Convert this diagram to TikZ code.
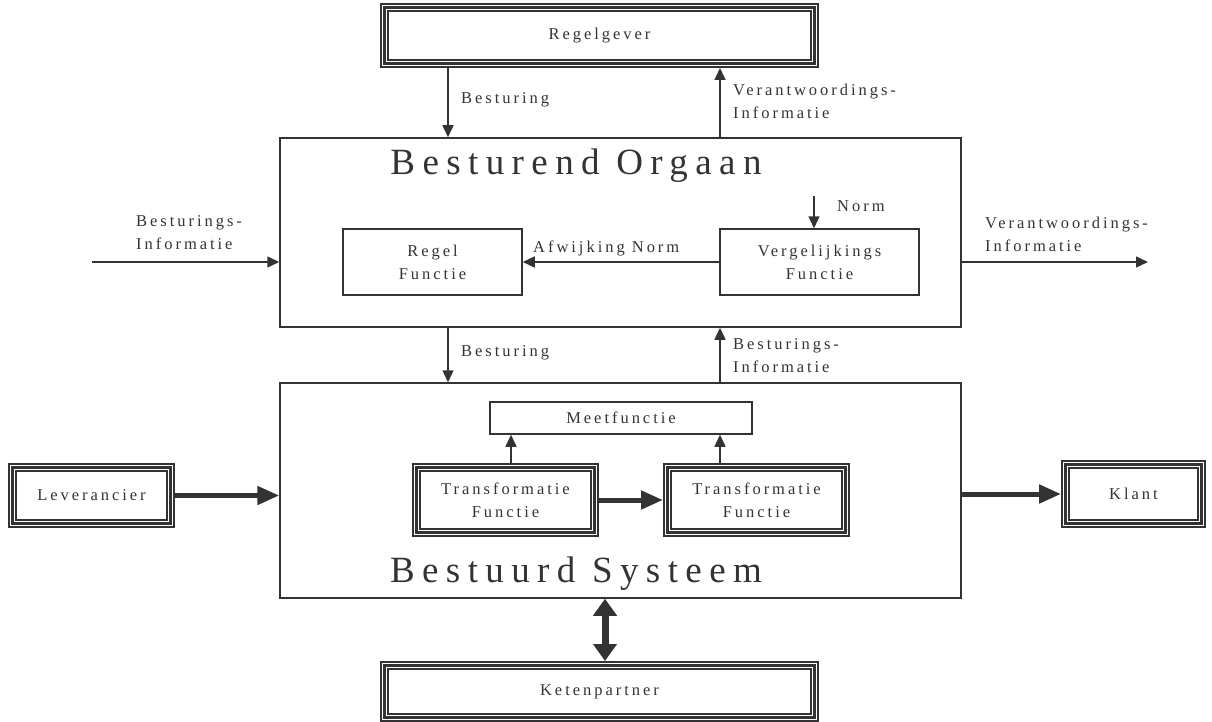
\documentclass[tikz,border=0pt]{standalone}
\usepackage{fontspec}
\setmainfont{Liberation Serif}[LetterSpace=18]
\newfontfamily\titlefont{Liberation Serif}[LetterSpace=20]
\usetikzlibrary{arrows.meta,calc}
\definecolor{ink}{HTML}{333333}
\begin{document}
\begin{tikzpicture}[x=1pt,y=-1pt,
  every node/.style={text=ink, font=\fontsize{16.5}{23}\selectfont},
  label/.style={align=left, inner sep=0pt},
  title/.style={font=\titlefont\fontsize{37}{42}\selectfont, inner sep=0pt},
  plainbox/.style={draw=ink, line width=1.5pt, inner sep=0pt, align=center},
  tribox/.style={draw=ink, line width=3pt, inner sep=0pt, outer sep=4.5pt, align=center,
    preaction={draw=ink, line width=9pt},
    preaction={draw=white, line width=5.5pt}},
  thin/.style={draw=ink, line width=1.5pt, -{Triangle[length=12pt,width=11pt]}},
  thick/.style={draw=ink, line width=5pt, -{Triangle[length=22pt,width=18pt]}},
  both/.style={draw=ink, line width=7pt, {Triangle[length=17pt,width=23pt]}-{Triangle[length=17pt,width=23pt]}}]
\useasboundingbox (0,0) rectangle (1212,722);

% controlling organ and controlled system
\node[plainbox, minimum width=681pt, minimum height=189pt] (bo) at (620.5,232.5) {};
\node[plainbox, minimum width=681pt, minimum height=215pt] (bs) at (620.5,490.5) {};
\node[title] (bot) at (576,166) {Besturend Orgaan};
\node[title] (bst) at (576,574) {Bestuurd Systeem};

% external parties
\node[tribox, minimum width=430pt, minimum height=56pt] (rg) at (599.5,35.5) {Regelgever};
\node[tribox, minimum width=430pt, minimum height=52pt] (kp) at (599.5,691.5) {Ketenpartner};
\node[tribox, minimum width=158pt, minimum height=56pt] (lev) at (91.5,495.5) {Leverancier};
\node[tribox, minimum width=136pt, minimum height=59pt] (kl) at (1133.5,494) {Klant};

% inner functions
\node[plainbox, minimum width=179pt, minimum height=66pt] (rf) at (432.5,262) {Regel\\Functie};
\node[plainbox, minimum width=199pt, minimum height=66pt] (vf) at (819.5,262) {Vergelijkings\\Functie};
\node[plainbox, minimum width=262pt, minimum height=32pt] (mf) at (621,418) {Meetfunctie};
\node[tribox, minimum width=178pt, minimum height=65pt] (t1) at (505.5,500) {Transformatie\\Functie};
\node[tribox, minimum width=178pt, minimum height=65pt] (t2) at (756.5,500) {Transformatie\\Functie};

% helper positions for vertical connectors
\coordinate (xa) at (448,0);
\coordinate (xb) at (720,0);
\coordinate (xn) at (814,196);
\coordinate (xm1) at (511,0);
\coordinate (xk) at (605,0);
\coordinate (inl) at (92,262);
\coordinate (outr) at (1148,262);

% connectors
\draw[thin] (rg.south -| xa) -- (bo.north -| xa);
\draw[thin] (bo.north -| xb) -- (rg.south -| xb);
\draw[thin] (bo.south -| xa) -- (bs.north -| xa);
\draw[thin] (bs.north -| xb) -- (bo.south -| xb);
\draw[thin] (inl) -- (bo.west |- inl);
\draw[thin] (bo.east |- outr) -- (outr);
\draw[thin] (xn) -- (vf.north -| xn);
\draw[thin] (vf.west) -- (rf.east);
\draw[thin] (t1.north -| xm1) -- (mf.south -| xm1);
\draw[thin] (t2.north -| xb) -- (mf.south -| xb);
\draw[thick] (lev.east) -- (bs.west |- lev.east);
\draw[thick] (bs.east |- kl.west) -- (kl.west);
\draw[thick] (t1.east) -- (t2.west);
\draw[both] (bs.south -| xk) -- (kp.north -| xk);

% connector labels
\node[label, anchor=west] (l1) at (461,100) {Besturing};
\node[label, anchor=west] (l2) at (733,101) {Verantwoordings-\\Informatie};
\node[label, anchor=west] (l3) at (136,233) {Besturings-\\Informatie};
\node[label, anchor=west] (l4) at (985,234) {Verantwoordings-\\Informatie};
\node[label, anchor=west] (l5) at (837,206) {Norm};
\node[label, anchor=west] (l6) at (533,248) {Afwijking Norm};
\node[label, anchor=west] (l7) at (461,353) {Besturing};
\node[label, anchor=west] (l8) at (733,356) {Besturings-\\Informatie};
\end{tikzpicture}
\end{document}
